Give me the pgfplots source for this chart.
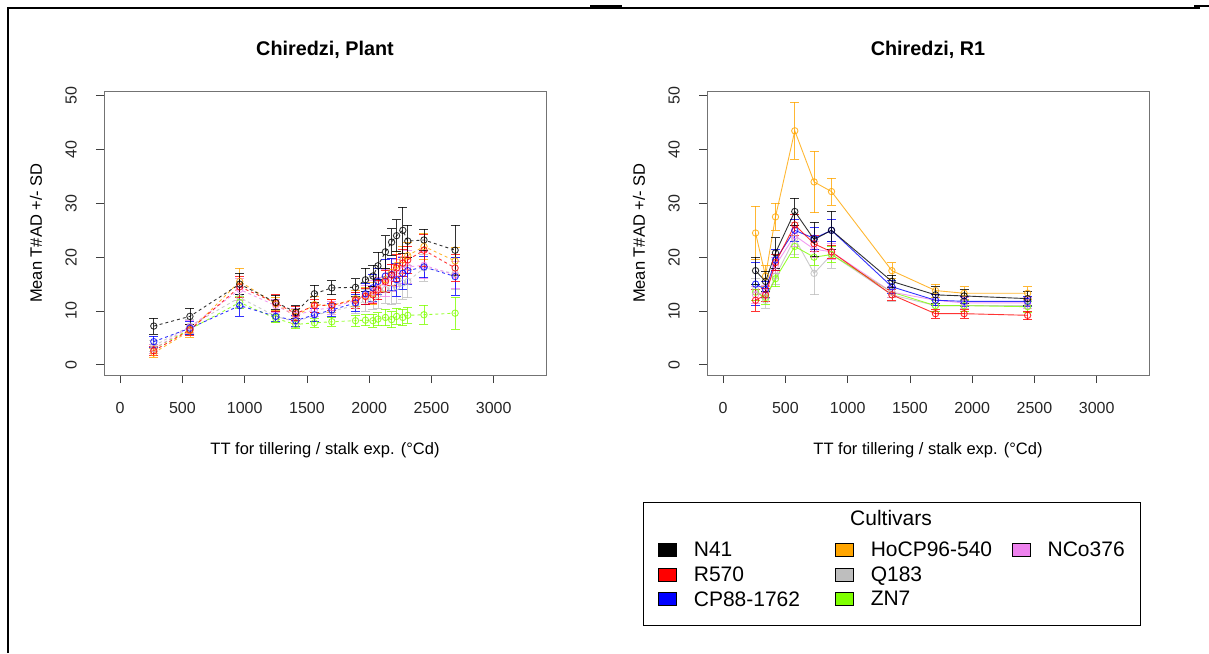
\documentclass[border=0pt]{standalone}
\usepackage{pgfplots}
\pgfplotsset{compat=1.18}
\usepackage{pgfplotstable}
\usepackage{fontspec}
\setmainfont{Liberation Sans}
\definecolor{cN}{HTML}{000000}
\definecolor{cR}{HTML}{FF0000}
\definecolor{cB}{HTML}{0000FF}
\definecolor{cO}{HTML}{FFA500}
\definecolor{cQ}{HTML}{BEBEBE}
\definecolor{cZ}{HTML}{7FFF00}
\definecolor{cV}{HTML}{EE82EE}

% ---------- left panel (Plant) ----------
\pgfplotstableread{
x y e
270 7.2 1.5
560 9.0 1.5
960 15.0 2.0
1250 11.6 1.3
1410 9.8 1.2
1560 13.2 1.6
1700 14.3 1.3
1890 14.4 1.6
1970 15.8 2.2
2030 16.5 2.0
2070 18.4 2.5
2130 21.0 3.0
2180 22.8 2.5
2220 24.0 3.0
2270 25.0 4.3
2310 23.0 3.0
2440 23.2 2.0
2690 21.3 4.7
}\LN
\pgfplotstableread{
x y e
270 2.6 0.8
560 6.5 1.0
960 14.5 2.0
1250 11.5 1.5
1410 9.5 1.3
1560 11.0 1.2
1700 11.1 1.0
1890 12.0 1.5
1970 12.7 1.5
2030 13.0 1.5
2070 13.9 1.8
2130 15.5 2.0
2180 16.7 2.0
2220 18.0 2.5
2270 18.9 2.5
2310 19.5 2.5
2440 21.3 3.0
2690 18.0 2.5
}\LR
\pgfplotstableread{
x y e
270 4.3 1.0
560 6.8 1.2
960 11.0 2.0
1250 9.0 1.0
1410 8.2 1.0
1560 9.3 1.2
1700 10.2 1.2
1890 11.5 1.5
1970 13.2 2.0
2030 14.3 2.5
2070 15.5 2.5
2130 16.5 3.0
2180 16.8 3.0
2220 15.8 3.0
2270 17.0 3.0
2310 17.5 2.5
2440 18.2 2.0
2690 16.4 3.5
}\LB
\pgfplotstableread{
x y e
270 2.2 0.8
560 6.3 1.2
960 15.5 2.5
1250 11.3 1.2
1410 9.0 1.3
1560 11.2 1.5
1700 11.0 1.2
1890 12.3 1.5
1970 12.8 1.5
2030 13.3 2.0
2070 14.2 2.0
2130 15.8 2.2
2180 17.2 2.5
2220 18.5 2.5
2270 19.5 2.5
2310 20.3 2.5
2440 22.0 2.5
2690 19.3 2.5
}\LO
\pgfplotstableread{
x y e
270 3.5 1.0
560 7.2 1.2
960 12.5 1.8
1250 9.0 1.2
1410 8.0 1.0
1560 9.2 1.2
1700 10.0 1.2
1890 11.0 1.5
1970 12.0 2.0
2030 12.3 2.0
2070 13.0 2.5
2130 14.0 2.5
2180 14.2 3.0
2220 14.5 3.0
2270 15.2 3.0
2310 15.5 3.0
2440 18.0 2.5
2690 17.0 3.0
}\LQ
\pgfplotstableread{
x y e
270 3.0 0.8
560 6.6 1.0
960 11.6 1.2
1250 8.6 0.8
1410 7.5 0.8
1560 7.8 0.8
1700 8.0 0.8
1890 8.2 1.0
1970 8.3 1.0
2030 8.2 1.2
2070 8.5 1.2
2130 8.8 1.5
2180 8.4 1.5
2220 9.0 1.5
2270 8.8 1.5
2310 9.2 1.5
2440 9.3 1.8
2690 9.6 3.0
}\LZ
\pgfplotstableread{
x y e
270 3.0 0.8
560 7.0 1.2
960 14.0 2.0
1250 11.0 1.2
1410 9.2 1.2
1560 10.2 1.2
1700 10.6 1.2
1890 12.0 1.5
1970 13.0 1.8
2030 13.6 2.0
2070 14.2 2.0
2130 15.3 2.5
2180 16.2 2.5
2220 17.0 2.5
2270 17.6 2.5
2310 18.2 3.0
2440 18.5 2.5
2690 16.7 2.5
}\LV

% ---------- right panel (R1) ----------
\pgfplotstableread{
x y e
260 17.5 2.5
340 15.5 1.8
420 20.8 2.8
575 28.5 2.5
730 23.3 3.2
870 25.0 3.5
1355 15.5 1.2
1705 13.0 1.5
1935 12.8 1.3
2445 12.3 1.3
}\RN
\pgfplotstableread{
x y e
260 12.0 2.0
340 13.0 1.2
420 19.0 1.5
575 26.0 2.0
730 22.5 1.5
870 21.0 1.2
1355 13.0 1.0
1705 9.5 0.8
1935 9.5 0.8
2445 9.2 0.8
}\RR
\pgfplotstableread{
x y e
260 15.0 4.0
340 14.0 1.5
420 19.5 2.0
575 25.0 2.0
730 23.5 2.0
870 25.0 2.0
1355 14.5 1.2
1705 12.0 1.0
1935 11.8 1.0
2445 11.8 1.0
}\RB
\pgfplotstableread{
x y e
260 24.5 5.0
340 16.5 2.0
420 27.5 2.5
575 43.5 5.3
730 34.0 5.7
870 32.2 2.5
1355 17.5 1.5
1705 13.8 1.2
1935 13.3 1.2
2445 13.3 1.2
}\RO
\pgfplotstableread{
x y e
260 14.0 2.0
340 12.0 1.5
420 16.5 1.5
575 23.5 3.0
730 17.0 4.0
870 20.5 2.5
1355 13.0 1.2
1705 11.0 1.0
1935 11.0 1.0
2445 11.0 1.0
}\RQ
\pgfplotstableread{
x y e
260 13.5 1.5
340 12.5 1.2
420 16.0 1.5
575 22.0 2.0
730 20.0 1.5
870 20.5 1.5
1355 13.5 1.0
1705 11.0 1.0
1935 11.0 1.0
2445 10.8 1.0
}\RZ
\pgfplotstableread{
x y e
260 13.0 1.5
340 13.5 1.2
420 18.5 1.5
575 24.0 2.0
730 21.5 1.5
870 21.0 1.5
1355 13.5 1.0
1705 12.0 1.0
1935 11.5 1.0
2445 11.5 1.0
}\RV

\pgfplotsset{
  rax/.style={scale only axis, width=442pt, height=284pt,
    xmin=-130, xmax=3420, ymin=-1.9, ymax=50.9,
    xtick={0,500,1000,1500,2000,2500,3000}, ytick={0,10,20,30,40,50},
    tick pos=left, tick align=outside, major tick length=8pt,
    axis line style={black!55, line width=0.9pt},
    major tick style={black!75, line width=0.8pt},
    ticklabel style={font=\fontsize{16}{18}\selectfont, text=black!85},
    /pgf/number format/assume math mode=true,
    /pgf/number format/set thousands separator={},
    xticklabel style={anchor=center, yshift=-25pt},
    yticklabel style={xshift=-25pt, rotate=90, anchor=center},
  },
  ser/.style={color=#1, opacity=0.8, mark=o, mark size=3.2pt, line width=0.9pt,
    mark options={solid},
    error bars/y dir=both, error bars/y explicit,
    error bars/error mark=-,
    error bars/error bar style={line width=0.8pt, solid},
    error bars/error mark options={rotate=90, line width=0.8pt, mark size=4.5pt, solid}},
  legsq/.style={legend image code/.code={\draw[##1] (0pt,-6.5pt) rectangle (18pt,6.5pt);}},
}

\begin{document}
\begin{tikzpicture}[x=1pt,y=1pt]
\useasboundingbox (0pt,0pt) rectangle (1209pt,-653pt);
\draw[line width=1.6pt] (8pt,-653pt) -- (8pt,-8pt) -- (1200pt,-8pt);
\draw[line width=2.2pt] (590pt,-6pt) -- (622pt,-6pt);
\draw[line width=2.2pt] (1194pt,-6pt) -- (1209pt,-6pt);

\begin{axis}[rax, at={(104pt,-375pt)}, anchor=south west]
\addplot[ser=cQ, dashed] table[x=x,y=y,y error=e]{\LQ};
\addplot[ser=cZ, dashed] table[x=x,y=y,y error=e]{\LZ};
\addplot[ser=cO, dashed] table[x=x,y=y,y error=e]{\LO};
\addplot[ser=cV, dashed] table[x=x,y=y,y error=e]{\LV};
\addplot[ser=cB, dashed] table[x=x,y=y,y error=e]{\LB};
\addplot[ser=cR, dashed] table[x=x,y=y,y error=e]{\LR};
\addplot[ser=cN, dashed] table[x=x,y=y,y error=e]{\LN};
\end{axis}

\begin{axis}[rax, at={(707pt,-375pt)}, anchor=south west,
  legend columns=3,
  legend style={at={(axis description cs:-0.111,-0.5845)}, anchor=north west,
    draw=none, fill=none, inner sep=0pt, outer sep=0pt,
    font=\fontsize{21}{23}\selectfont,
    nodes={inner xsep=0pt, inner ysep=1pt},
    /tikz/every odd column/.append style={column sep=17pt},
    row sep=6.5pt},
  legend cell align=left]
\addplot[ser=cQ, forget plot] table[x=x,y=y,y error=e]{\RQ};
\addplot[ser=cZ, forget plot] table[x=x,y=y,y error=e]{\RZ};
\addplot[ser=cO, forget plot] table[x=x,y=y,y error=e]{\RO};
\addplot[ser=cV, forget plot] table[x=x,y=y,y error=e]{\RV};
\addplot[ser=cB, forget plot] table[x=x,y=y,y error=e]{\RB};
\addplot[ser=cR, forget plot] table[x=x,y=y,y error=e]{\RR};
\addplot[ser=cN, forget plot] table[x=x,y=y,y error=e]{\RN};
\addlegendimage{legsq, fill=cN, draw=black, line width=0.9pt}
\addlegendentry{\makebox[141pt][l]{N41}}
\addlegendimage{legsq, fill=cO, draw=black, line width=0.9pt}
\addlegendentry{\makebox[141pt][l]{HoCP96-540}}
\addlegendimage{legsq, fill=cV, draw=black, line width=0.9pt}
\addlegendentry{\makebox[80pt][l]{NCo376}}
\addlegendimage{legsq, fill=cR, draw=black, line width=0.9pt}
\addlegendentry{R570}
\addlegendimage{legsq, fill=cQ, draw=black, line width=0.9pt}
\addlegendentry{Q183}
\addlegendimage{empty legend}
\addlegendentry{}
\addlegendimage{legsq, fill=cB, draw=black, line width=0.9pt}
\addlegendentry{CP88-1762}
\addlegendimage{legsq, fill=cZ, draw=black, line width=0.9pt}
\addlegendentry{ZN7}
\end{axis}

\draw[line width=1pt] (643pt,-502pt) rectangle (1140pt,-625pt);
\node[font=\fontsize{21}{23}\selectfont] at (891pt,-518pt) {Cultivars};

\node[font=\bfseries\fontsize{19.8}{22}\selectfont] at (325pt,-50pt) {Chiredzi, Plant};
\node[font=\bfseries\fontsize{19.8}{22}\selectfont] at (928pt,-50pt) {Chiredzi, R1};
\node[font=\fontsize{16.5}{18}\selectfont] at (325pt,-450pt) {TT for tillering / stalk exp. (°Cd)};
\node[font=\fontsize{16.5}{18}\selectfont] at (928pt,-450pt) {TT for tillering / stalk exp. (°Cd)};
\node[rotate=90, font=\fontsize{16.5}{18}\selectfont] at (36pt,-233pt) {Mean T\#AD +/- SD};
\node[rotate=90, font=\fontsize{16.5}{18}\selectfont] at (639pt,-233pt) {Mean T\#AD +/- SD};
\end{tikzpicture}
\end{document}
